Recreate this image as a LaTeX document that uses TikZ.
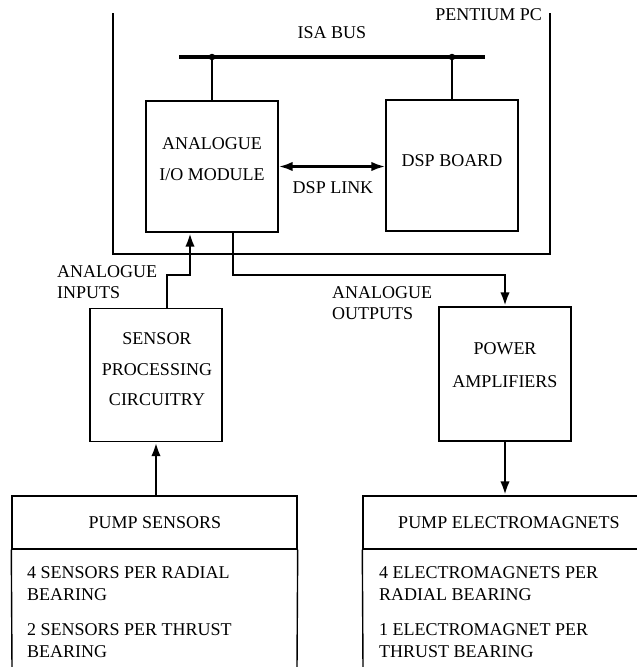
\documentclass[tikz,border=0pt]{standalone}
\usepackage{fontspec}
\setmainfont{Liberation Serif}
\usetikzlibrary{arrows.meta}
\begin{document}
\begin{tikzpicture}[x=1pt,y=-1pt,
  boxn/.style={draw,line width=1.4pt,minimum width=132pt,minimum height=132pt,inner sep=0pt},
  txt/.style={inner sep=0pt,align=center,font=\fontsize{18}{30.5}\selectfont},
  lbl/.style={inner sep=0pt,align=left,anchor=west,font=\fontsize{18}{21.5}\selectfont},
  conn/.style={line width=2.8pt},
  arr/.style={conn,-{Latex[length=14pt,width=9.5pt]}},
  frame/.style={line width=1.4pt},
  tapdot/.style={circle,fill,inner sep=0pt,minimum size=6.5pt}]
\useasboundingbox (0,0) rectangle (637,667);
% PC frame
\coordinate (pctl) at (113,13);
\coordinate (pcbl) at (113,254);
\coordinate (pcbr) at (550,254);
\coordinate (pctr) at (550,13);
\draw[frame] (pctl) -- (pcbl) -- (pcbr) -- (pctr);
\node[txt,anchor=east] (pentium) at (542,15) {PENTIUM PC};
% ISA bus
\node[txt] (isa) at (332,33) {ISA BUS};
\coordinate (busl) at (179,57);
\coordinate (busr) at (485,57);
\draw[line width=3.2pt] (busl) -- (busr);
% boxes in PC
\node[boxn,minimum height=131pt] (io) at (212,166.5) {};
\node[boxn,minimum height=131pt] (dsp) at (452,165.5) {};
\node[txt] (iot) at (212,159) {ANALOGUE\\I/O MODULE};
\node[txt] (dspt) at (452,161) {DSP BOARD};
\node[tapdot] (tap1) at (io.north |- busl) {};
\node[tapdot] (tap2) at (dsp.north |- busl) {};
\draw[conn,line width=2.4pt] (tap1) -- (io.north);
\draw[conn,line width=2.4pt] (tap2) -- (dsp.north);
\draw[conn,line width=2.6pt,{Latex[length=14pt,width=9.5pt]}-{Latex[length=14pt,width=9.5pt]}] (io.east) -- (dsp.west |- io.east);
\node[txt] (link) at (333,188) {DSP LINK};
% sensor processing & power amps
\node[boxn,minimum height=133pt] (sp) at (156,375) {};
\node[txt] (spt) at (157,369.5) {SENSOR\\PROCESSING\\CIRCUITRY};
\node[boxn,minimum height=134pt] (pa) at (505,374) {};
\node[txt,font=\fontsize{18}{33}\selectfont] (pat) at (505,365.5) {POWER\\AMPLIFIERS};
% analogue inputs
\coordinate (inb) at (167,275);
\draw[arr] (sp.north -| inb) -- (inb) -| ([xshift=-22pt]io.south);
\node[lbl] (inl) at (57,282) {ANALOGUE\\INPUTS};
% analogue outputs
\coordinate (outb) at (233,275);
\draw[arr] (io.south -| outb) -- (outb) -| (pa.north);
\node[lbl] (outl) at (332,303) {ANALOGUE\\OUTPUTS};
% pump sensors
\node[draw,line width=1.4pt,minimum width=285pt,minimum height=53pt,inner sep=0pt] (ps) at (154.5,522.5) {};
\node[txt] (pst) at (155,523) {PUMP SENSORS};
\coordinate (psbl) at (12,668);
\coordinate (psbr) at (297,668);
\draw[frame] (ps.south west) -- (psbl);
\draw[frame] (ps.south east) -- (psbr);
\node[lbl] (ps1) at (27,583.5) {4 SENSORS PER RADIAL\\BEARING};
\node[lbl] (ps2) at (27,640.5) {2 SENSORS PER THRUST\\BEARING};
\draw[arr] (sp.south |- ps.north) -- (sp.south);
% pump electromagnets
\node[draw,line width=1.4pt,minimum width=297pt,minimum height=53pt,inner sep=0pt] (pe) at (511.5,522.5) {};
\node[txt] (pet) at (509,523) {PUMP ELECTROMAGNETS};
\coordinate (pebl) at (363,668);
\draw[frame] (pe.south west) -- (pebl);
\node[lbl] (pe1) at (379,583.5) {4 ELECTROMAGNETS PER\\RADIAL BEARING};
\node[lbl] (pe2) at (379,640.5) {1 ELECTROMAGNET PER\\THRUST BEARING};
\draw[arr] (pa.south) -- (pa.south |- pe.north);
\end{tikzpicture}
\end{document}
